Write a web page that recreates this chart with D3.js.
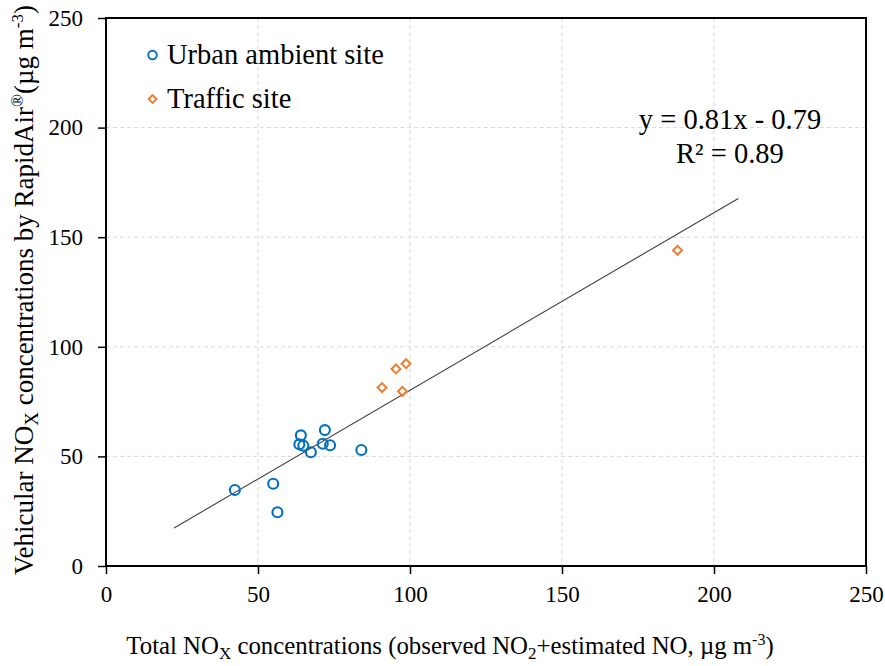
<!DOCTYPE html>
<html>
<head>
<meta charset="utf-8">
<script src="https://cdn.jsdelivr.net/npm/d3@7"></script>
<style>
  html, body { margin: 0; padding: 0; background: #fff; }
  svg { display: block; }
</style>
</head>
<body>
<svg id="chart" width="885" height="666"></svg>
<script>
// Urban ambient site: total NOx (x) vs vehicular NOx by RapidAir (y)
const urbanX = [42.4, 55.0, 56.4, 64.1, 63.6, 64.9, 67.4, 72.0, 71.3, 73.7, 84.0];
const urbanY = [34.7, 37.5, 24.5, 59.6, 55.5, 54.9, 51.9, 62.0, 55.8, 55.1, 52.9];

// Traffic site
const trafficX = [90.8, 95.4, 98.7, 97.5, 188.0];
const trafficY = [81.4, 89.9, 92.3, 79.7, 144.0];

// Linear trendline as labelled
const slope = 0.81;
const intercept = -0.79;
const rSquared = 0.89;
const trendExtend = 20; // forecast forward/backward, x units

const xTicks = [0, 50, 100, 150, 200, 250];
const yTicks = [0, 50, 100, 150, 200, 250];
const seriesNames = ["Urban ambient site", "Traffic site"];

const blue = "#0070C0";
const orange = "#ED7D31";
const serif = "'Liberation Serif', 'Times New Roman', serif";

const svg = d3.select("#chart").style("font-family", serif);
const plotL = 106, plotR = 866, plotT = 18, plotB = 566;

const x = d3.scaleLinear().domain([0, 250]).range([plotL, plotR]);
const y = d3.scaleLinear().domain([0, 250]).range([plotB, plotT]);

// gridlines
const grid = svg.append("g");
grid.selectAll("line.gx").data(xTicks.slice(1, -1)).join("line")
  .attr("x1", d => x(d)).attr("x2", d => x(d))
  .attr("y1", plotT).attr("y2", plotB)
  .attr("stroke", "#d9d9d9").attr("stroke-width", 1).attr("stroke-dasharray", "4,3");
grid.selectAll("line.gy").data(yTicks.slice(1, -1)).join("line")
  .attr("x1", plotL).attr("x2", plotR)
  .attr("y1", d => y(d)).attr("y2", d => y(d))
  .attr("stroke", "#d9d9d9").attr("stroke-width", 1).attr("stroke-dasharray", "4,3");

// axes
const xAxis = svg.append("g").attr("transform", `translate(0,${plotB})`)
  .call(d3.axisBottom(x).tickValues(xTicks).tickSize(8).tickSizeOuter(0).tickPadding(12));
const yAxis = svg.append("g").attr("transform", `translate(${plotL},0)`)
  .call(d3.axisLeft(y).tickValues(yTicks).tickSize(8).tickSizeOuter(0).tickPadding(15));
[xAxis, yAxis].forEach(g => {
  g.attr("font-family", null).attr("font-size", null);
  g.select(".domain").remove();
  g.selectAll(".tick line").attr("stroke", "#000").attr("stroke-width", 1.5);
  g.selectAll(".tick text").style("font-family", serif)
    .style("font-size", "23px").attr("fill", "#000");
});

// plot frame
svg.append("rect")
  .attr("x", plotL).attr("y", plotT)
  .attr("width", plotR - plotL).attr("height", plotB - plotT)
  .attr("fill", "none").attr("stroke", "#000").attr("stroke-width", 2);

// trendline
const allX = urbanX.concat(trafficX);
const tx0 = d3.min(allX) - trendExtend, tx1 = d3.max(allX) + trendExtend;
svg.append("line")
  .attr("x1", x(tx0)).attr("y1", y(slope * tx0 + intercept))
  .attr("x2", x(tx1)).attr("y2", y(slope * tx1 + intercept))
  .attr("stroke", "#404040").attr("stroke-width", 1.1);

// urban points
svg.append("g").selectAll("circle").data(urbanX.map((d, i) => [d, urbanY[i]])).join("circle")
  .attr("cx", d => x(d[0])).attr("cy", d => y(d[1])).attr("r", 5)
  .attr("fill", "none").attr("stroke", blue).attr("stroke-width", 2.1);

// traffic points
const diamond = d3.symbol().type(d3.symbolDiamond2).size(50);
svg.append("g").selectAll("path").data(trafficX.map((d, i) => [d, trafficY[i]])).join("path")
  .attr("transform", d => `translate(${x(d[0])},${y(d[1])})`)
  .attr("d", diamond)
  .attr("fill", "none").attr("stroke", orange).attr("stroke-width", 2);

// legend
const legend = svg.append("g");
legend.append("circle").attr("cx", 152.5).attr("cy", 55).attr("r", 4.3)
  .attr("fill", "none").attr("stroke", blue).attr("stroke-width", 1.9);
legend.append("path").attr("transform", "translate(152.5,99)")
  .attr("d", d3.symbol().type(d3.symbolDiamond2).size(40))
  .attr("fill", "none").attr("stroke", orange).attr("stroke-width", 1.9);
legend.selectAll("text").data(seriesNames).join("text")
  .attr("x", 167).attr("y", (d, i) => 64 + i * 44)
  .style("font-family", serif).style("font-size", "28.5px").text(d => d);

// trendline equation
svg.append("text").attr("x", 730).attr("y", 129).attr("text-anchor", "middle")
  .style("font-family", serif).style("font-size", "28.5px").style("white-space", "pre")
  .text(`y = ${slope}x - ${Math.abs(intercept)}`);
svg.append("text").attr("x", 730).attr("y", 163).attr("text-anchor", "middle")
  .style("font-family", serif).style("font-size", "28.5px").text(`R² = ${rSquared}`);

// x axis title
const xt = svg.append("text").attr("x", 450).attr("y", 654).attr("text-anchor", "middle")
  .style("font-family", serif).style("font-size", "24.8px");
xt.append("tspan").text("Total NO");
xt.append("tspan").attr("dy", 5).style("font-size", "17px").text("X");
xt.append("tspan").attr("dy", -5).text(" concentrations (observed NO");
xt.append("tspan").attr("dy", 5).style("font-size", "17px").text("2");
xt.append("tspan").attr("dy", -5).text("+estimated NO, µg m");
xt.append("tspan").attr("dy", -9).style("font-size", "16px").text("-3");
xt.append("tspan").attr("dy", 9).text(")");

// y axis title
const yt = svg.append("text")
  .attr("transform", "translate(33,290) rotate(-90)")
  .attr("text-anchor", "middle")
  .style("font-family", serif).style("font-size", "27px");
yt.append("tspan").text("Vehicular NO");
yt.append("tspan").attr("dy", 5).style("font-size", "19px").text("X");
yt.append("tspan").attr("dy", -5).text(" concentrations by RapidAir");
yt.append("tspan").attr("dy", -10).style("font-size", "17px").text("®");
yt.append("tspan").attr("dy", 10).text("(µg m");
yt.append("tspan").attr("dy", -10).style("font-size", "17px").text("-3");
yt.append("tspan").attr("dy", 10).text(")");
</script>
</body>
</html>
